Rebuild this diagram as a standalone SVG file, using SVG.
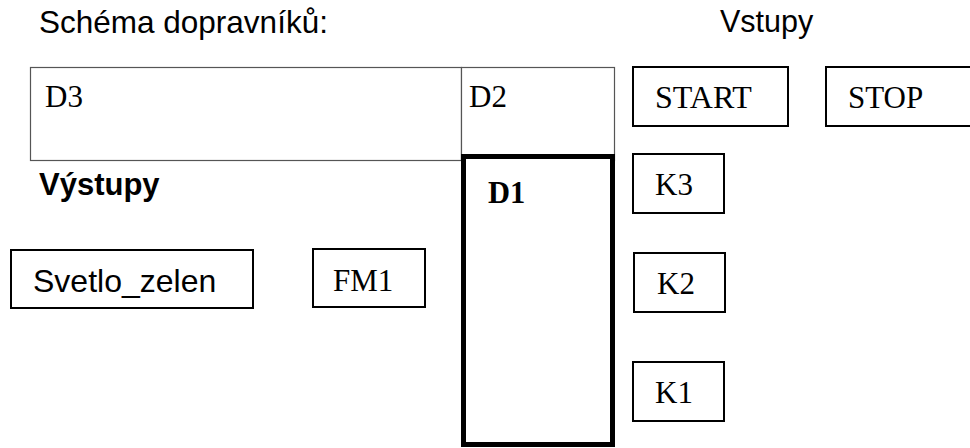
<svg xmlns="http://www.w3.org/2000/svg" width="970" height="448" viewBox="0 0 970 448">
<style>
.a{font-family:"Liberation Sans",Arial,sans-serif;font-size:31.5px;fill:#000}
.ab{font-family:"Liberation Sans",Arial,sans-serif;font-size:31px;font-weight:bold;fill:#000}
.s{font-family:"Liberation Serif","Times New Roman",serif;font-size:31px;fill:#000}
.sb{font-family:"Liberation Serif","Times New Roman",serif;font-size:30.5px;font-weight:bold;fill:#000}
.box{fill:#fff;stroke:#000;stroke-width:2}
.thin{fill:#fff;stroke:#555;stroke-width:1.2}
.thick{fill:none;stroke:#000;stroke-width:5}
</style>
<rect width="970" height="448" fill="#fff"/>
<text class="a" x="39" y="33">Schéma dopravníků:</text>
<text class="a" x="720" y="32" style="font-size:30.5px">Vstupy</text>
<text class="ab" x="39" y="195">Výstupy</text>
<g id="D3">
<rect class="thin" x="30.5" y="67.5" width="431" height="93"/>
<text class="s" x="45" y="107">D3</text>
</g>
<g id="D2">
<rect class="thin" x="461.5" y="67.5" width="153" height="93"/>
<text class="s" x="469" y="107">D2</text>
</g>
<g id="D1">
<rect fill="#fff" x="463.5" y="156.5" width="149" height="288"/>
<rect class="thick" x="463.5" y="156.5" width="149" height="288"/>
<text class="sb" x="488" y="203">D1</text>
</g>
<g id="START">
<rect class="box" x="633" y="67" width="155" height="59"/>
<text class="s" x="655" y="108" style="font-size:32px">START</text>
</g>
<g id="STOP">
<rect class="box" x="826" y="67" width="160" height="59"/>
<text class="s" x="848" y="108">STOP</text>
</g>
<g id="K3">
<rect class="box" x="633" y="154" width="91" height="59"/>
<text class="s" x="655" y="195">K3</text>
</g>
<g id="K2">
<rect class="box" x="634" y="253" width="91" height="59"/>
<text class="s" x="657" y="294">K2</text>
</g>
<g id="K1">
<rect class="box" x="633" y="362" width="91" height="59"/>
<text class="s" x="655" y="403">K1</text>
</g>
<g id="Svetlo_zelen">
<rect class="box" x="11" y="250" width="242" height="58"/>
<text class="a" x="33" y="292" style="font-size:32px">Svetlo_zelen</text>
</g>
<g id="FM1">
<rect class="box" x="313" y="249" width="112" height="58"/>
<text class="s" x="333" y="291">FM1</text>
</g>
<g id="connectors"></g>
</svg>
